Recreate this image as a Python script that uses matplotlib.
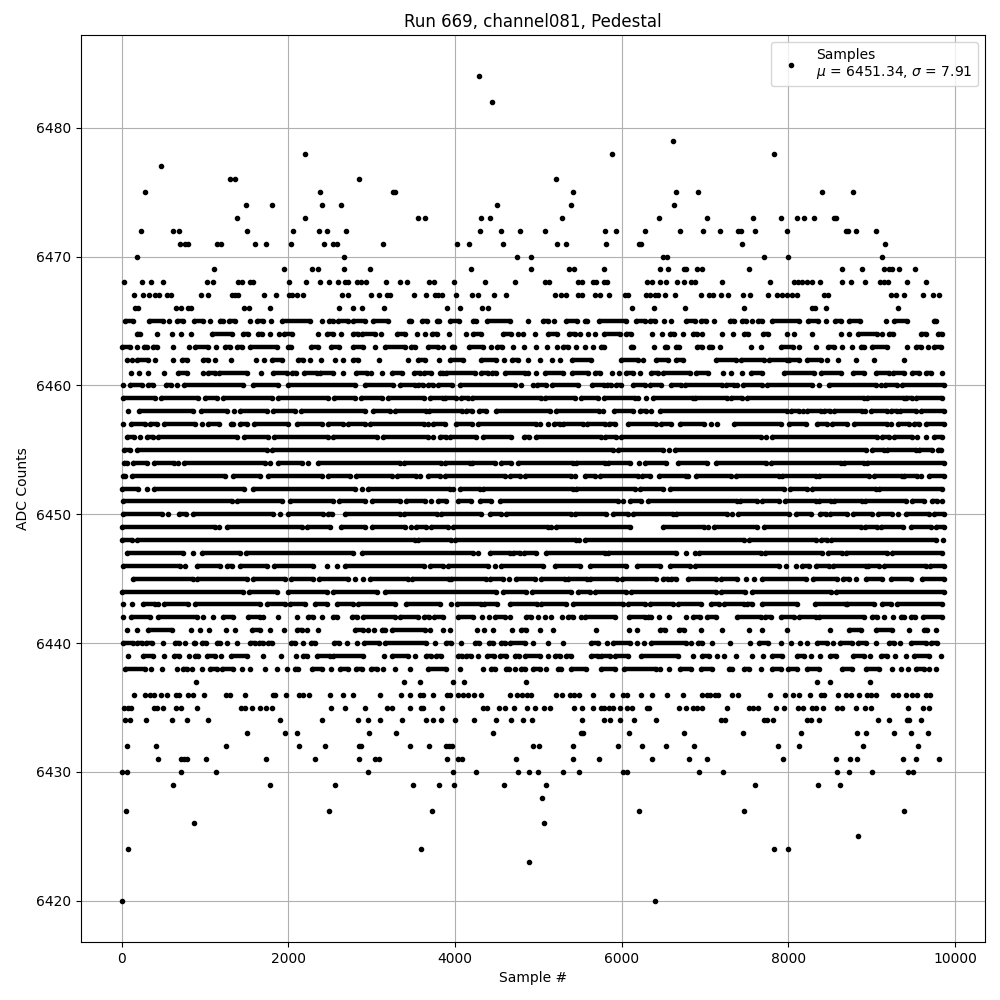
import matplotlib
matplotlib.use("Agg")
import matplotlib.pyplot as plt

# Samples, by ADC level. Sparse levels: one sample # per dot.
pts_6484 = [4288]
pts_6482 = [4444]
pts_6479 = [6616]
pts_6478 = [2204, 5884, 7832]
pts_6477 = [476]
pts_6476 = [1304, 1364, 2852, 5212]
pts_6475 = [284, 2384, 3260, 3284, 5416, 6652, 6916, 8408, 8780]
pts_6474 = [1496, 1808, 2408, 2636, 4504, 5392, 6628]
pts_6473 = [1388, 2204, 3556, 3640, 4312, 4420, 5284, 6448, 7028, 7580, 7916, 8108, 8192, 8312, 8552, 8576]
pts_6472 = [236, 620, 692, 1508, 2060, 2372, 2468, 2696, 4300, 4552, 4780, 5080, 5800, 5932, 6280, 6700,
            6980, 7184, 7400, 7436, 7604, 7988, 8696, 8720, 8816, 9056]
pts_6471 = [704, 764, 800, 1148, 1196, 1604, 1736, 2036, 2432, 2540, 2588, 3140, 4024, 4168, 4576, 5224,
            5332, 5812, 6208, 6232, 7448, 9164]
pts_6470 = [188, 2672, 4744, 4912, 6496, 6544, 7712, 8000, 9128]
pts_6469 = [1112, 1952, 2288, 2360, 2672, 2984, 4192, 4912, 5368, 5428, 5788, 6460, 6556, 6748, 6772, 6904,
            6968, 7532, 8648, 8888, 9152, 9212, 9248, 9332, 9524]
pts_6468 = [32, 248, 356, 500, 1028, 1100, 1400, 1448, 1544, 1580, 2012, 2216, 2384, 2492, 2600, 2684, 2720,
            2828, 2876, 2936, 3176, 3336, 3424, 3688, 3748, 3988, 4360, 4720, 5080, 5128, 5476, 5524, 5656,
            5692, 5788, 5824, 6304, 6364, 6460, 6532, 6664, 6748, 6832, 6880, 7208, 7784, 8072, 8120, 8168,
            8228, 8288, 8384, 8648, 8756, 8924, 9104, 9152, 9200, 9428, 9656]
pts_6467 = [152, 260, 332, 404, 452, 548, 596, 956, 1040, 1328, 1364, 1400, 1712, 1852, 2012, 2048, 2108,
            2180, 2648, 2720, 2996, 3092, 3188, 3224, 3508, 3652, 3760, 3796, 3844, 4012, 4204, 4276, 4468,
            4612, 5200, 5272, 5332, 5476, 5524, 5680, 5740, 5848, 6040, 6076, 6292, 6340, 6400, 6436, 6520,
            6640, 6956, 7052, 7100, 7196, 7280, 7460, 7544, 7760, 7868, 7928, 7988, 8048, 8108, 8432, 8480,
            9236, 9296, 9392, 9620, 9740, 9812]
pts_6466 = [164, 200, 656, 716, 800, 836, 1472, 1532, 1784, 2612, 2780, 2888, 3152, 3904, 4060, 4324, 4396,
            6124, 6388, 6760, 7472, 8288, 8324, 8456, 9320]
pts_6437 = [896, 3388, 3580, 3976, 4108, 4852, 8348, 8504, 8984]
pts_6436 = [152, 284, 344, 392, 476, 548, 656, 692, 800, 860, 992, 1256, 1304, 1484, 1820, 1844, 1976, 2132,
            2180, 2252, 2504, 2660, 2780, 3104, 3352, 3460, 3580, 3616, 3736, 3904, 3940, 4036, 4096, 4156,
            4228, 4312, 4660, 4744, 4804, 4864, 4912, 5212, 5284, 5380, 5428, 5488, 5656, 5884, 6016, 6064,
            6232, 6364, 6544, 6736, 6968, 7028, 7064, 7124, 7160, 7328, 7400, 7784, 7964, 8060, 8132, 8264,
            8396, 8432, 8600, 8696, 8756, 8852, 8948, 8996, 9056, 9260, 9320, 9416, 9488, 9548, 9656, 9704]
pts_6435 = [32, 80, 108, 392, 428, 500, 656, 716, 900, 1436, 1484, 1568, 1664, 1736, 1808, 2516, 2684, 2924,
            3188, 3248, 3460, 3592, 3616, 3844, 4336, 4384, 4528, 4600, 4708, 4864, 4960, 5068, 5140, 5428,
            5524, 5656, 5752, 5788, 5848, 5896, 5980, 6064, 6124, 6304, 6328, 6688, 6772, 6856, 6904, 6968,
            7268, 7532, 7580, 7640, 7856, 7952, 8120, 8180, 8288, 8336, 8420, 8588, 8648, 8816, 8924, 8996,
            9440, 9620, 9692]
pts_6434 = [44, 104, 296, 608, 788, 1040, 1904, 2408, 2840, 2960, 3104, 3364, 3652, 3736, 3832, 4000, 4228,
            4492, 4672, 4816, 4924, 5524, 5788, 5860, 5980, 6148, 6412, 7196, 7244, 7712, 7748, 7820, 8228,
            8276, 8372, 9080, 9212, 9428, 9452, 9596]
pts_6433 = [1508, 1964, 2108, 2972, 3296, 4456, 5512, 5536, 6088, 6748, 7460, 8156, 8828, 8936, 9272, 9476, 9680]
pts_6432 = [68, 416, 1256, 2132, 2444, 2852, 2876, 3460, 3688, 3892, 3928, 3964, 4936, 5008, 5416, 5956, 6244,
            6532, 6868, 7880, 8132, 8900, 9560]
pts_6431 = [440, 716, 752, 788, 1016, 1736, 2324, 2852, 3044, 3092, 3904, 4036, 4084, 4732, 5416, 5728, 6364,
            6808, 7028, 7940, 8576, 8744, 8828, 9380, 9536, 9812]
pts_6430 = [8, 68, 716, 1136, 2960, 3976, 4252, 4756, 4888, 4996, 5296, 5488, 6016, 6064, 6928, 7220, 8588,
            8732, 9008, 9440, 9500]
pts_6429 = [620, 1784, 2564, 3496, 3808, 3988, 4588, 5092, 7604, 8360, 8624]
pts_6428 = [5044]
pts_6427 = [56, 2492, 3724, 6208, 7472, 9392]
pts_6426 = [872, 5068]
pts_6425 = [8840]
pts_6424 = [80, 3592, 7832, 8000]
pts_6423 = [4888]
pts_6420 = [0, 6400]

sparse_levels = [6484, 6482, 6479, 6478, 6477, 6476, 6475, 6474, 6473, 6472, 6471, 6470, 6469, 6468, 6467,
                 6466, 6437, 6436, 6435, 6434, 6433, 6432, 6431, 6430, 6429, 6428, 6427, 6426, 6425, 6424,
                 6423, 6420]
sparse_samples = [pts_6484, pts_6482, pts_6479, pts_6478, pts_6477, pts_6476, pts_6475, pts_6474, pts_6473,
                  pts_6472, pts_6471, pts_6470, pts_6469, pts_6468, pts_6467, pts_6466, pts_6437, pts_6436,
                  pts_6435, pts_6434, pts_6433, pts_6432, pts_6431, pts_6430, pts_6429, pts_6428, pts_6427,
                  pts_6426, pts_6425, pts_6424, pts_6423, pts_6420]

# Dense levels: the dots merge, so these are the visible runs (first sample, last sample).
# A lone dot is a run with first == last.
runs_6465 = [(44, 140), (332, 500), (572, 572), (660, 740), (868, 980), (1060, 1060), (1180, 1220), (1292, 1360),
             (1544, 1544), (1620, 1700), (1796, 1796), (1928, 2260), (2400, 2400), (2492, 2540), (2600, 2720),
             (2780, 2920), (3020, 3200), (3448, 3476), (3608, 3664), (3784, 3808), (3944, 4048), (4216, 4248),
             (4384, 4656), (4876, 4876), (5056, 5116), (5184, 5184), (5336, 5464), (5556, 5584), (5728, 6056),
             (6168, 6276), (6336, 6400), (6508, 6508), (6592, 6592), (6768, 6876), (6948, 7016), (7108, 7108),
             (7296, 7348), (7448, 7488), (7568, 7568), (7640, 7688), (7808, 8128), (8240, 8360), (8456, 8456),
             (8560, 8628), (8728, 8856), (9168, 9168), (9268, 9428), (9748, 9768)]
runs_6464 = [(188, 220), (428, 428), (608, 608), (716, 716), (836, 836), (1080, 1320), (1460, 1520), (1640, 1688),
             (1784, 1784), (1892, 1892), (1952, 2040), (2360, 2360), (2460, 2540), (2636, 2636), (2780, 2840),
             (2888, 3040), (3116, 3116), (3308, 3396), (3544, 3544), (3640, 3640), (3724, 3784), (3928, 3928),
             (4132, 4132), (4216, 4316), (4576, 4676), (4756, 4756), (4816, 4816), (4960, 4960), (5116, 5224),
             (5368, 5436), (5500, 5500), (5596, 5596), (5680, 5680), (5788, 5976), (6056, 6112), (6368, 6368),
             (6484, 6484), (6584, 6632), (6736, 6736), (6856, 6904), (6968, 6968), (7208, 7208), (7340, 7340),
             (7472, 7520), (7700, 7760), (7988, 7988), (8072, 8072), (8288, 8288), (8636, 8636), (8732, 8732),
             (8840, 9068), (9128, 9128), (9208, 9256), (9596, 9656), (9800, 9848)]
runs_6463 = [(0, 100), (188, 188), (272, 308), (380, 420), (620, 620), (812, 812), (880, 1040), (1136, 1136),
             (1244, 1304), (1388, 1448), (1544, 1860), (2000, 2036), (2276, 2360), (2516, 2612), (2780, 2900),
             (3044, 3044), (3164, 3396), (3476, 3524), (3676, 3796), (3856, 3856), (3964, 3988), (4168, 4336),
             (4436, 4436), (4504, 4564), (4696, 4696), (4828, 4828), (4972, 4972), (5104, 5104), (5224, 5224),
             (5296, 5356), (5452, 5452), (5560, 5560), (5656, 5656), (5752, 5788), (6112, 6136), (6388, 6388),
             (6520, 6544), (6652, 6688), (6904, 6960), (7048, 7088), (7176, 7176), (7556, 7556), (7676, 7676),
             (7908, 8056), (8132, 8132), (8336, 8336), (8480, 8552), (8648, 8648), (8764, 8764), (8876, 8908),
             (9008, 9188), (9428, 9428), (9536, 9588), (9680, 9680), (9752, 9828)]
runs_6462 = [(60, 60), (120, 120), (180, 320), (400, 400), (620, 620), (720, 788), (980, 1040), (1120, 1120),
             (1316, 1316), (1612, 1612), (1712, 1712), (1808, 1920), (2120, 2180), (2260, 2260), (2396, 2396),
             (2564, 2564), (2660, 2660), (2780, 2840), (3092, 3092), (3436, 3436), (3556, 3636), (3808, 3808),
             (3936, 4096), (4316, 4496), (4588, 4588), (4688, 4756), (4876, 4876), (5016, 5016), (5168, 5168),
             (5264, 5264), (5408, 5636), (5996, 6196), (6256, 6256), (6416, 6556), (6656, 6736), (7128, 7368),
             (7428, 7708), (7768, 7988), (8008, 8128), (8228, 8388), (8468, 8468), (8600, 8600), (8808, 8808),
             (9028, 9028), (9388, 9388)]
runs_6461 = [(108, 108), (204, 204), (312, 312), (504, 504), (672, 788), (972, 972), (1040, 1120), (1172, 1500),
             (1668, 1668), (1812, 1980), (2040, 2092), (2188, 2340), (2380, 2540), (2660, 2660), (2812, 2940),
             (2996, 2996), (3124, 3124), (3240, 3368), (3504, 3576), (3624, 3716), (3816, 3856), (3896, 4236),
             (4316, 4396), (4448, 4496), (4596, 4836), (4876, 4876), (4968, 4968), (5076, 5296), (5408, 5596),
             (5676, 5744), (5888, 5888), (5968, 5968), (6056, 6136), (6224, 6224), (6356, 6436), (6496, 6816),
             (6896, 7040), (7216, 7216), (7308, 7308), (7448, 7448), (7548, 7688), (7948, 8308), (8388, 8628),
             (8776, 8908), (9048, 9208), (9256, 9388), (9488, 9568), (9648, 9708), (9848, 9848)]
runs_6460 = [(12, 12), (100, 240), (320, 372), (532, 588), (660, 660), (748, 1460), (1572, 1880), (2000, 2800),
             (2920, 3260), (3336, 3516), (3556, 3616), (3676, 3736), (3796, 3968), (4064, 4716), (4796, 4796),
             (4936, 4936), (4984, 5096), (5168, 5476), (5648, 5784), (5824, 5876), (5928, 5996), (6136, 6276),
             (6336, 6476), (6596, 6716), (6756, 7208), (7248, 7348), (7388, 7388), (7456, 7688), (7748, 8288),
             (8368, 8368), (8488, 9048), (9108, 9108), (9160, 9308), (9368, 9868)]
runs_6459 = [(12, 400), (468, 920), (1004, 1148), (1212, 1800), (1880, 2480), (2552, 2800), (2868, 3120),
             (3200, 3624), (3696, 3856), (3876, 4016), (4076, 4156), (4208, 5036), (5076, 5436), (5516, 5716),
             (5784, 6156), (6196, 6196), (6296, 6296), (6376, 6856), (6880, 7268), (7308, 7448), (7500, 8908),
             (8948, 9388), (9408, 9488), (9528, 9848)]
runs_6458 = [(76, 76), (212, 860), (952, 1268), (1352, 1352), (1420, 1740), (1812, 2080), (2152, 2920), (3020, 3220),
             (3280, 3656), (3688, 4088), (4136, 4208), (4288, 4368), (4496, 5136), (5216, 5728), (5776, 5776),
             (5904, 6136), (6224, 6296), (6356, 6356), (6456, 7988), (8028, 8128), (8176, 8176), (8228, 8388),
             (8428, 8496), (8548, 8880), (8920, 8920), (8988, 9188), (9228, 9308), (9336, 9536), (9588, 9868)]
runs_6457 = [(12, 12), (108, 280), (340, 420), (512, 880), (960, 960), (1040, 1172), (1308, 1340), (1420, 1500),
             (1588, 2000), (2100, 2400), (2480, 2660), (2720, 2920), (2980, 3624), (3676, 3676), (3736, 3876),
             (4008, 4208), (4276, 4976), (5016, 5016), (5116, 5116), (5184, 5256), (5296, 5536), (5584, 5796),
             (5848, 5916), (6076, 6416), (6476, 6596), (6696, 6988), (7068, 7068), (7148, 7148), (7348, 7908),
             (8008, 8208), (8348, 8468), (8528, 8708), (8788, 9188), (9228, 9228), (9320, 9448), (9508, 9568),
             (9648, 9868)]
runs_6456 = [(60, 148), (216, 216), (300, 380), (440, 1380), (1472, 1760), (1832, 2480), (2540, 3060), (3132, 3676),
             (3736, 3736), (3824, 3888), (3944, 4256), (4336, 4676), (4824, 4888), (4968, 5756), (5796, 5936),
             (5996, 7668), (7728, 7728), (7808, 9068), (9120, 9208), (9268, 9488), (9548, 9548), (9656, 9656),
             (9748, 9840)]
runs_6455 = [(28, 100), (188, 1740), (1800, 5896), (5956, 6496), (6568, 6568), (6636, 8928), (9008, 9148),
             (9188, 9528), (9568, 9728), (9800, 9828)]
runs_6454 = [(28, 60), (140, 300), (392, 628), (672, 672), (752, 1720), (1780, 1780), (1872, 2160), (2240, 2240),
             (2360, 3340), (3384, 3836), (3876, 4176), (4208, 4476), (4556, 4676), (4756, 5416), (5456, 5796),
             (5836, 6096), (6208, 6208), (6276, 6536), (6676, 7028), (7128, 7728), (7788, 8628), (8668, 8908),
             (8948, 9868)]
runs_6453 = [(12, 40), (120, 1240), (1340, 1660), (1760, 2400), (2480, 2740), (2812, 3240), (3300, 3536), (3584, 3584),
             (3676, 3816), (3876, 4596), (4656, 4776), (4836, 5396), (5436, 5436), (5556, 5676), (5736, 6196),
             (6248, 6336), (6448, 6776), (6796, 6796), (6896, 7308), (7368, 7888), (7928, 8328), (8368, 8968),
             (9028, 9360), (9388, 9548), (9588, 9588), (9688, 9868)]
runs_6452 = [(0, 200), (308, 308), (392, 1468), (1580, 2800), (2880, 2880), (2952, 3936), (3976, 3976), (4064, 4296),
             (4336, 5416), (5456, 6156), (6216, 6496), (6576, 7948), (8016, 8228), (8288, 9048), (9088, 9848)]
runs_6451 = [(20, 1320), (1380, 1920), (2020, 2540), (2612, 2920), (3000, 3336), (3408, 3636), (3716, 3716),
             (3796, 3896), (4036, 4196), (4296, 4436), (4536, 5956), (6016, 6016), (6096, 6236), (6316, 7388),
             (7416, 7628), (7688, 7888), (7960, 8328), (8368, 8508), (8548, 8888), (8920, 9408), (9488, 9628),
             (9720, 9788), (9848, 9848)]
runs_6450 = [(20, 480), (560, 560), (692, 772), (852, 1820), (1900, 1900), (2000, 2420), (2480, 2520), (2680, 3340),
             (3384, 3784), (3836, 4316), (4416, 4548), (4616, 5396), (5436, 5816), (5896, 6076), (6136, 6616),
             (6656, 7268), (7320, 7320), (7400, 8008), (8096, 8268), (8376, 8456), (8496, 8708), (8776, 9008),
             (9076, 9240), (9320, 9320), (9416, 9688), (9748, 9868)]
runs_6449 = [(0, 1120), (1172, 1172), (1260, 2160), (2228, 2500), (2628, 2920), (3000, 3396), (3476, 3476), (3528, 3648),
             (3716, 3916), (3976, 5116), (5156, 5156), (5216, 6096), (6496, 6988), (7040, 7040), (7108, 7628),
             (7708, 8868), (8920, 9068), (9108, 9376), (9468, 9708), (9768, 9868)]
runs_6448 = [(0, 120), (188, 3516), (3556, 3956), (3996, 5456), (5488, 5488), (5556, 7468), (7528, 8328), (8388, 8468),
             (8508, 9768), (9856, 9856)]
runs_6447 = [(68, 740), (860, 860), (968, 1420), (1492, 2780), (2880, 4216), (4276, 4276), (4416, 4656), (4696, 4776),
             (4824, 4968), (5088, 5796), (5836, 6656), (6776, 6776), (6876, 6876), (6928, 7668), (7720, 8408),
             (8480, 8640), (8688, 9188), (9240, 9840)]
runs_6446 = [(20, 700), (764, 764), (900, 1180), (1260, 1320), (1420, 1740), (1832, 2300), (2460, 2460), (2580, 2580),
             (2680, 3624), (3696, 3856), (3916, 4396), (4476, 4476), (4556, 5056), (5196, 5496), (5624, 6056),
             (6184, 6456), (6576, 6816), (6876, 7888), (7968, 7968), (8088, 8088), (8168, 8248), (8328, 8488),
             (8536, 8928), (8960, 9088), (9148, 9648), (9696, 9868)]
runs_6445 = [(132, 860), (908, 1500), (1572, 1960), (2028, 2300), (2372, 2720), (2800, 2800), (2900, 2900),
             (2980, 3436), (3488, 3928), (3956, 4368), (4424, 4576), (4648, 4648), (4736, 4956), (5036, 5316),
             (5356, 5584), (5616, 5944), (6008, 6416), (6496, 6556), (6596, 6656), (6796, 7128), (7188, 7388),
             (7488, 7488), (7588, 7588), (7680, 8216), (8296, 8588), (8656, 8728), (8808, 8808), (8928, 9128),
             (9228, 9468), (9600, 9868)]
runs_6444 = [(0, 1460), (1532, 1860), (2000, 2460), (2540, 3060), (3160, 4496), (4576, 4848), (4928, 5396), (5476, 5616),
             (5676, 6056), (6116, 7128), (7188, 7480), (7568, 8508), (8568, 9868)]
runs_6443 = [(12, 12), (128, 128), (260, 400), (440, 440), (508, 800), (880, 1660), (1740, 1960), (2020, 2200),
             (2320, 2460), (2588, 2780), (2840, 3280), (3416, 3816), (3956, 3956), (4024, 4316), (4344, 4504),
             (4656, 4984), (5036, 5336), (5416, 6016), (6076, 6276), (6336, 6616), (6676, 6948), (7068, 7168),
             (7228, 7468), (7508, 7568), (7688, 8108), (8320, 8688), (8708, 9028), (9120, 9228), (9308, 9848)]
runs_6442 = [(12, 12), (108, 340), (440, 900), (980, 980), (1100, 1100), (1212, 1340), (1520, 1660), (1700, 1700),
             (1880, 1880), (2108, 2108), (2240, 2300), (2400, 2400), (2540, 2588), (2760, 2820), (2892, 3280),
             (3336, 3556), (3624, 3688), (3744, 3856), (4036, 4216), (4328, 4328), (4408, 4408), (4476, 4596),
             (4656, 4656), (4848, 4916), (4996, 4996), (5076, 5076), (5156, 5156), (5284, 5284), (5356, 5416),
             (5516, 5516), (5556, 5916), (6088, 6276), (6316, 6356), (6448, 6448), (6568, 6568), (6768, 6768),
             (6856, 6936), (7028, 7128), (7388, 7668), (7720, 7788), (7908, 8068), (8128, 8328), (8368, 8908),
             (9008, 9068), (9152, 9152), (9256, 9256), (9348, 9388), (9468, 9520), (9616, 9848)]
runs_6441 = [(60, 60), (180, 180), (320, 600), (828, 828), (940, 940), (1052, 1052), (1248, 1248), (1360, 1360),
             (1560, 1660), (1784, 1784), (1952, 1952), (2100, 2160), (2220, 2220), (2360, 2360), (2800, 2900),
             (2960, 2960), (3028, 3028), (3120, 3160), (3240, 3636), (3704, 3704), (3856, 3856), (3936, 3936),
             (4264, 4264), (4344, 4344), (4456, 4456), (4688, 4688), (4796, 4856), (5016, 5016), (5176, 5176),
             (5696, 5696), (6088, 6088), (6184, 6184), (6456, 6516), (6688, 6744), (6948, 6948), (7208, 7208),
             (7528, 7528), (7688, 7688), (7988, 7988), (8496, 8496), (8728, 8868), (9048, 9248), (9448, 9448),
             (9628, 9668), (9776, 9776)]
runs_6440 = [(12, 140), (188, 240), (292, 360), (500, 500), (640, 692), (764, 764), (868, 880), (960, 1012), (1148, 1180),
             (1268, 1268), (1380, 1380), (1544, 1600), (1652, 1700), (1760, 1800), (2028, 2080), (2180, 2180),
             (2268, 2320), (2552, 2612), (2708, 2708), (2828, 2828), (2908, 3092), (3160, 3656), (3756, 3756),
             (3888, 3956), (4072, 4072), (4236, 4288), (4408, 4456), (4556, 4596), (4656, 4836), (4936, 4936),
             (5116, 5116), (5296, 5296), (5636, 5716), (5824, 5824), (5896, 6096), (6184, 6184), (6268, 6268),
             (6356, 6776), (6836, 6836), (6916, 6960), (7088, 7088), (7304, 7304), (7544, 7544), (7648, 7760),
             (7912, 7912), (8036, 8036), (8140, 8140), (8228, 8228), (8348, 8468), (8540, 8540), (8624, 8768),
             (8840, 8928), (9048, 9048), (9208, 9268), (9336, 9336), (9468, 9648), (9708, 9788)]
runs_6439 = [(80, 80), (260, 380), (508, 508), (632, 692), (812, 812), (880, 920), (1020, 1120), (1196, 1196),
             (1308, 1500), (1692, 1692), (1916, 1916), (2096, 2096), (2180, 2220), (2340, 2500), (2540, 2900),
             (3152, 3152), (3240, 3436), (3516, 3516), (3656, 3716), (3768, 3836), (4036, 4088), (4136, 4196),
             (4276, 4276), (4384, 4468), (4536, 4616), (4716, 4768), (4836, 5016), (5116, 5116), (5196, 5256),
             (5328, 5396), (5636, 5716), (5756, 5856), (5916, 6076), (6236, 6676), (6856, 6856), (6968, 7048),
             (7148, 7148), (7228, 7228), (7368, 7368), (7568, 7568), (7700, 7700), (7800, 7928), (8108, 8188),
             (8268, 8268), (8376, 8376), (8496, 8568), (8776, 8908), (8984, 8984), (9108, 9188), (9276, 9276),
             (9408, 9408), (9508, 9688), (9828, 9828)]
runs_6438 = [(40, 280), (352, 352), (488, 488), (668, 668), (740, 788), (848, 848), (968, 968), (1060, 1140),
             (1200, 1340), (1448, 1448), (1540, 1540), (1724, 1724), (1868, 1868), (1988, 1988), (2080, 2120),
             (2288, 2400), (2516, 2516), (2620, 2720), (2812, 2880), (2988, 3060), (3140, 3140), (3284, 3284),
             (3460, 3460), (3676, 3896), (4060, 4060), (4336, 4336), (4436, 4476), (4608, 4648), (4720, 4720),
             (4796, 4836), (4936, 5016), (5092, 5092), (5236, 5276), (5396, 5576), (5756, 5916), (6024, 6416),
             (6456, 6456), (6568, 6568), (6696, 6836), (6948, 7088), (7288, 7328), (7468, 7528), (7668, 7668),
             (7800, 7908), (8000, 8108), (8228, 8368), (8648, 8768), (8928, 9088), (9248, 9248), (9348, 9348),
             (9440, 9440), (9528, 9628), (9688, 9688), (9768, 9768)]

dense_levels = list(range(6465, 6437, -1))
dense_runs = [runs_6465, runs_6464, runs_6463, runs_6462, runs_6461, runs_6460, runs_6459, runs_6458, runs_6457,
              runs_6456, runs_6455, runs_6454, runs_6453, runs_6452, runs_6451, runs_6450, runs_6449, runs_6448,
              runs_6447, runs_6446, runs_6445, runs_6444, runs_6443, runs_6442, runs_6441, runs_6440, runs_6439,
              runs_6438]

legend_text = "Samples\n" + r"$\mu$ = 6451.34, $\sigma$ = 7.91"

xs = []
ys = []
for level, samples in zip(sparse_levels, sparse_samples):
    for s in samples:
        xs.append(s)
        ys.append(level)

run_y = []
run_start = []
run_end = []
for level, runs in zip(dense_levels, dense_runs):
    for start, end in runs:
        xs.append(start)
        ys.append(level)
        if end != start:
            xs.append(end)
            ys.append(level)
            run_y.append(level)
            run_start.append(start)
            run_end.append(end)

fig, ax = plt.subplots(figsize=(10, 10))
ax.hlines(run_y, run_start, run_end, colors="k", linewidth=3.2, zorder=2)
ax.plot(xs, ys, "k.", label=legend_text)
ax.set_title("Run 669, channel081, Pedestal")
ax.set_xlabel("Sample #")
ax.set_ylabel("ADC Counts")
ax.grid(True)
ax.legend(loc="upper right")
fig.subplots_adjust(left=0.0805, right=0.985, top=0.965, bottom=0.058)
fig.savefig("out.png", dpi=100)
